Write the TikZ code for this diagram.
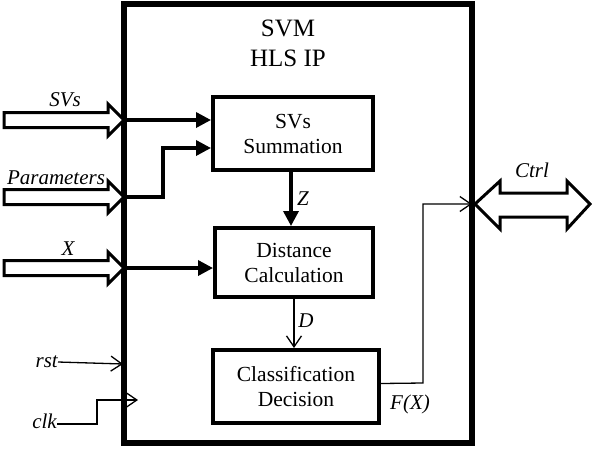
\documentclass[tikz,border=0pt]{standalone}
\usepackage{fontspec}
\setmainfont{Liberation Serif}
\usetikzlibrary{arrows.meta,calc}
\begin{document}
\begin{tikzpicture}[x=1pt,y=-1pt,
  blk/.style={draw,line width=4pt,inner sep=0pt,align=center,font=\fontsize{21.5}{25}\selectfont},
  lbl/.style={inner sep=0pt,font=\fontsize{21}{25}\selectfont\itshape},
  thk/.style={line width=3.4pt,-{Triangle[length=15pt,width=15pt]}},
  thn/.style={line width=1.3pt,-{Straight Barb[length=11pt,width=15pt]}},
  hollow/.style={draw,line width=3pt,fill=white,line join=miter}]
\useasboundingbox (0,0) rectangle (592,448);
% main box
\node[draw,line width=6pt,minimum width=348pt,minimum height=439pt,inner sep=0pt] (ip) at (298,223.5) {};
\node[inner sep=0pt,align=center,font=\fontsize{25}{30}\selectfont,anchor=north] (title) at (288,20) {SVM\\HLS IP};
% blocks
\node[blk,minimum width=160pt,minimum height=73pt] (sum) at (293,133.5) {SVs\\Summation};
\node[blk,minimum width=158pt,minimum height=69pt] (dist) at (294,262.5) {Distance\\Calculation};
\node[blk,minimum width=166pt,minimum height=73pt] (cls) at (296,386.5) {Classification\\Decision};
% ports on main box
\coordinate (psv) at (124,120);
\coordinate (ppar) at (124,197);
\coordinate (px) at (124,268);
\coordinate (prst) at (123,364);
\coordinate (pclk) at (138,400);
\coordinate (pctrl) at (472,204);
% hollow input arrows
\foreach \n/\cy in {sv/120,par/197,x/268}{
  \draw[hollow] (4,\cy-7.5) -- (108,\cy-7.5) -- (108,\cy-16) -- (124,\cy) -- (108,\cy+16) -- (108,\cy+7.5) -- (4,\cy+7.5) -- cycle;
}
% ctrl double arrow
\draw[hollow] (475,204) -- (500,181) -- (500,193) -- (567,193) -- (567,181) -- (590,204) -- (567,229) -- (567,217) -- (500,217) -- (500,229) -- cycle;
% labels
\node[lbl] (lsv) at (65,100) {SVs};
\node[lbl] (lpar) at (56,178) {Parameters};
\node[lbl] (lx) at (68,249) {X};
\node[lbl] (lctrl) at (532,170) {Ctrl};
\node[lbl,anchor=east] (lrst) at (58,362) {rst};
\node[lbl,anchor=east] (lclk) at (57,421) {clk};
\node[lbl] (lz) at (303,199) {Z};
\node[lbl] (ld) at (306,321) {D};
\node[lbl] (lf) at (410,404) {F(X)};
% connectors
\draw[thk] (psv) -- (psv -| sum.west);
\draw[thk] (ppar) -- (163,197) -- (163,148) -- (163,148 -| sum.west);
\draw[thk] (px) -- (px -| dist.west);
\draw[thk] (sum.south -| 291,0) -- (dist.north -| 291,0);
\draw[thn] (dist.south -| 294,0) -- (cls.north -| 294,0);
\draw[thn,line cap=butt] ($(cls.east)+(0,-3)$) -- (423,383) -- (423,204) -- (pctrl);
\draw[thn] (lrst.east) -- (prst);
\draw[thn] (lclk.east |- 0,424) -- (97,424) -- (97,400) -- (pclk);
\end{tikzpicture}
\end{document}
